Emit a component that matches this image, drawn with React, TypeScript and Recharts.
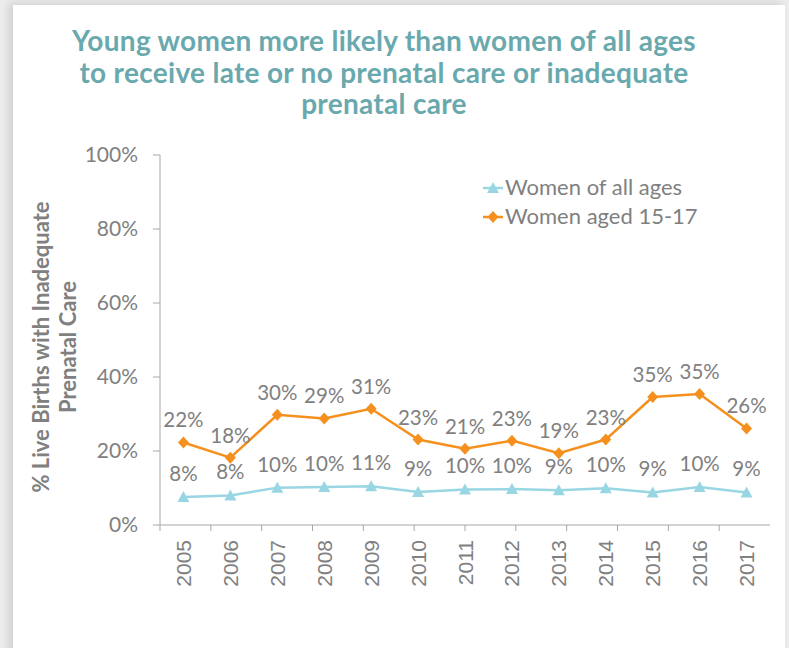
import React from 'react';
import { LineChart, Line, XAxis, YAxis, LabelList } from 'recharts';

const years = ['2005', '2006', '2007', '2008', '2009', '2010', '2011', '2012', '2013', '2014', '2015', '2016', '2017'];
const womenAllAges = [7.6, 8.0, 10.1, 10.3, 10.5, 8.9, 9.6, 9.7, 9.4, 9.9, 8.8, 10.3, 8.8];
const womenAged1517 = [22.3, 18.2, 29.8, 28.8, 31.4, 23.1, 20.6, 22.8, 19.4, 23.1, 34.6, 35.4, 26.1];
const yTicks = [0, 20, 40, 60, 80, 100];
const bandTicks = years.map((_, i) => i).concat([years.length]);

const data = years.map((year, i) => ({ year, all: womenAllAges[i], young: womenAged1517[i] }));

const GRAY = '#808080';
const AXIS = '#a6a6a6';
const ORANGE = '#f5901e';
const BLUE = '#98d6e3';
const TEAL = '#69a9ae';
const FONT = 'Lato, "Open Sans", sans-serif';

const Triangle = (props: any) => {
  const { cx, cy } = props;
  if (cx == null || cy == null) return null;
  return <polygon points={`${cx},${cy - 6} ${cx - 6},${cy + 5} ${cx + 6},${cy + 5}`} fill={BLUE} />;
};

const Diamond = (props: any) => {
  const { cx, cy } = props;
  if (cx == null || cy == null) return null;
  return <polygon points={`${cx},${cy - 6} ${cx + 5.5},${cy} ${cx},${cy + 6} ${cx - 5.5},${cy}`} fill={ORANGE} />;
};

const makeLabel = (dy: number) => (props: any) => {
  const { x, y, value } = props;
  return (
    <text x={x} y={y - dy} textAnchor="middle" fill={GRAY} fontSize={20.5} fontFamily={FONT}>
      {`${Math.round(value)}%`}
    </text>
  );
};

const XTick = (props: any) => {
  const { x, y, payload } = props;
  return (
    <text
      transform={`translate(${x},${y + 6}) rotate(-90)`}
      textAnchor="end"
      dominantBaseline="central"
      fill={GRAY}
      fontSize={21}
      fontFamily='"Liberation Sans", Arial, sans-serif'
    >
      {payload.value}
    </text>
  );
};

const EmptyTick = () => <g />;

const LegendBlock = () => (
  <g fontFamily={FONT} fontSize={22} fill={GRAY}>
    <line x1={483} y1={188} x2={503} y2={188} stroke={BLUE} strokeWidth={2.5} />
    <polygon points={`493,182 487,193 499,193`} fill={BLUE} />
    <text x={505} y={195}>Women of all ages</text>
    <line x1={483} y1={217} x2={503} y2={217} stroke={ORANGE} strokeWidth={2.5} />
    <polygon points={`493,211 498.5,217 493,223 487.5,217`} fill={ORANGE} />
    <text x={505} y={224}>Women aged 15-17</text>
  </g>
);

const YLabel = () => (
  <g fill={GRAY} fontSize={22} fontWeight={700} fontFamily={FONT} textAnchor="middle">
    <text transform="translate(40,347) rotate(-90)" dominantBaseline="central">% Live Births with Inadequate</text>
    <text transform="translate(67,347) rotate(-90)" dominantBaseline="central">Prenatal Care</text>
  </g>
);

export default function App() {
  return (
    <div style={{ position: 'absolute', left: 0, top: 0, width: 789, height: 648, background: '#ececec', overflow: 'hidden' }}>
      <div
        style={{
          position: 'absolute',
          left: 13,
          top: 5,
          width: 772,
          height: 660,
          background: '#ffffff',
          boxShadow: '-4px -2px 8px rgba(0,0,0,0.12)',
        }}
      />
      <div
        style={{
          position: 'absolute',
          left: 0,
          top: 25,
          width: 768,
          textAlign: 'center',
          color: TEAL,
          fontFamily: FONT,
          fontWeight: 700,
          fontSize: 28,
          letterSpacing: 0.3,
          lineHeight: '31.5px',
        }}
      >
        Young women more likely than women of all ages
        <br />
        to receive late or no prenatal care or inadequate
        <br />
        prenatal care
      </div>
      <div style={{ position: 'absolute', left: 0, top: 0 }}>
        <LineChart width={789} height={648} data={data} margin={{ top: 155, right: 19, bottom: 53, left: 100 }}>
          <XAxis
            xAxisId="a"
            type="number"
            domain={[0, years.length]}
            ticks={bandTicks}
            allowDataOverflow
            stroke={AXIS}
            tickLine={{ stroke: AXIS }}
            tickSize={6}
            height={1}
            tick={<EmptyTick />}
          />
          <XAxis
            xAxisId="b"
            dataKey="year"
            scale="band"
            axisLine={false}
            tickLine={false}
            tickSize={6}
            interval={0}
            height={69}
            tick={<XTick />}
          />
          <YAxis
            domain={[0, 100]}
            ticks={yTicks}
            width={60}
            stroke={AXIS}
            tickLine={{ stroke: AXIS }}
            tickSize={7}
            tickMargin={15}
            tickFormatter={(v: number) => `${v}%`}
            tick={{ fill: GRAY, fontSize: 21, fontFamily: FONT }}
          />
          <Line
            xAxisId="b"
            dataKey="all"
            stroke={BLUE}
            strokeWidth={2.5}
            dot={<Triangle />}
            activeDot={false}
            isAnimationActive={false}
          >
            <LabelList dataKey="all" content={makeLabel(16)} />
          </Line>
          <Line
            xAxisId="b"
            dataKey="young"
            stroke={ORANGE}
            strokeWidth={2.5}
            dot={<Diamond />}
            activeDot={false}
            isAnimationActive={false}
          >
            <LabelList dataKey="young" content={makeLabel(15)} />
          </Line>
          <LegendBlock />
          <YLabel />
        </LineChart>
      </div>
    </div>
  );
}
